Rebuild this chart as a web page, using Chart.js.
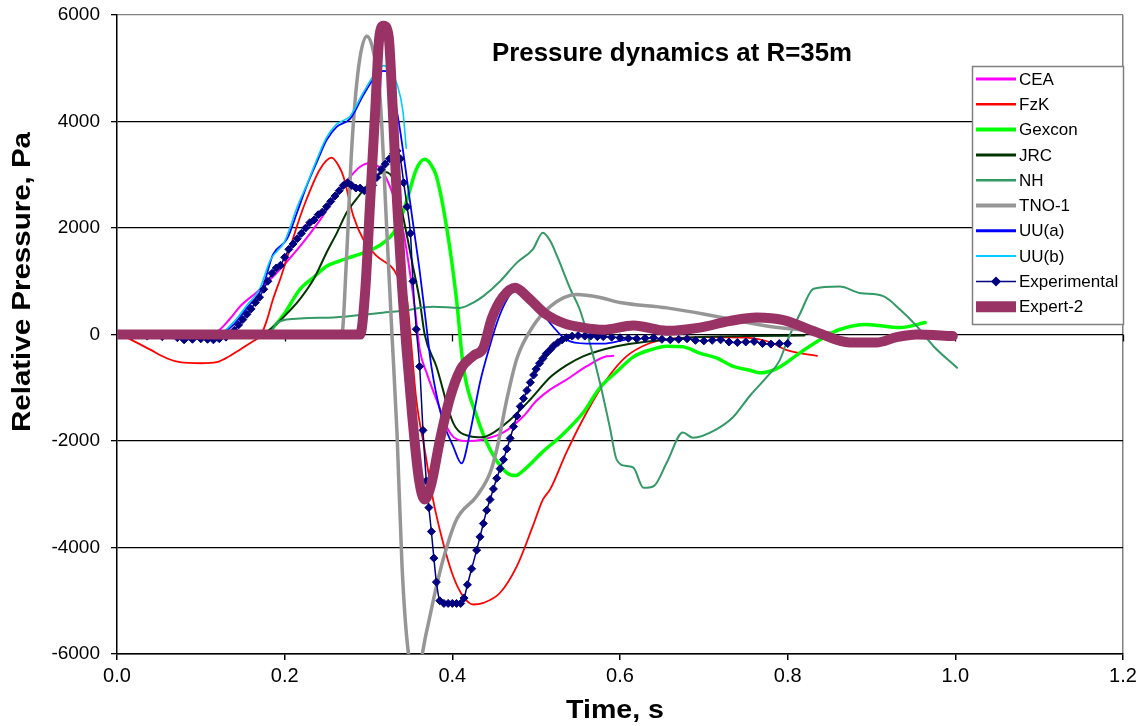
<!DOCTYPE html>
<html><head><meta charset="utf-8">
<script src="https://cdn.jsdelivr.net/npm/chart.js@4.4.1/dist/chart.umd.min.js"></script>
<style>html,body{margin:0;padding:0;background:#fff;}#wrap{width:1147px;height:726px;}</style>
</head><body><div id="wrap"><canvas id="c" width="1147" height="726"></canvas></div>
<script>
const TITLE = 'Pressure dynamics at R=35m';
const X_TITLE = 'Time, s';
const Y_TITLE = 'Relative Pressure, Pa';
const X_TICKS = [0, 0.2, 0.4, 0.6, 0.8, 1.0, 1.2];
const Y_TICKS = [-6000, -4000, -2000, 0, 2000, 4000, 6000];
const SERIES_NAMES = ['CEA','FzK','Gexcon','JRC','NH','TNO-1','UU(a)','UU(b)','Experimental','Expert-2'];

const CEA = [[0,0],[0.1,0],[0.119,50],[0.135,300],[0.147,530],[0.167,800],[0.19,1150],[0.218,1650],[0.24,2100],[0.258,2530],[0.275,2900],[0.29,3150],[0.302,3220],[0.315,3100],[0.325,2800],[0.335,2350],[0.342,1900],[0.35,1100],[0.356,400],[0.361,-280],[0.37,-750],[0.381,-1220],[0.397,-1840],[0.417,-2000],[0.437,-1970],[0.461,-1840],[0.485,-1530],[0.5,-1250],[0.517,-1030],[0.536,-850],[0.56,-600],[0.584,-410],[0.592,-400]];
const FZK = [[0,0],[0.01,-50],[0.039,-280],[0.06,-450],[0.075,-520],[0.1,-540],[0.119,-520],[0.135,-400],[0.147,-280],[0.16,-150],[0.167,-80],[0.172,0],[0.179,280],[0.186,657],[0.196,1100],[0.206,1600],[0.216,2100],[0.226,2535],[0.242,3100],[0.256,3320],[0.265,3150],[0.27,2970],[0.282,2220],[0.294,1780],[0.31,1470],[0.33,1220],[0.34,900],[0.346,657],[0.35,0],[0.357,-1220],[0.367,-2160],[0.377,-3100],[0.389,-3910],[0.401,-4540],[0.413,-4920],[0.425,-5070],[0.437,-5040],[0.457,-4850],[0.477,-4350],[0.496,-3600],[0.508,-3100],[0.517,-2900],[0.536,-2220],[0.56,-1470],[0.584,-845],[0.608,-407],[0.636,-160],[0.66,-80],[0.7,-50],[0.75,-60],[0.78,-150],[0.8,-300],[0.835,-400]];
const GEXCON = [[0,0],[0.175,0],[0.19,200],[0.2,400],[0.218,845],[0.235,1080],[0.25,1280],[0.265,1380],[0.282,1470],[0.305,1600],[0.32,1750],[0.33,1910],[0.34,2250],[0.346,2535],[0.357,3100],[0.367,3290],[0.374,3200],[0.381,2970],[0.393,2030],[0.405,657],[0.413,-595],[0.429,-1530],[0.445,-2160],[0.465,-2600],[0.475,-2650],[0.485,-2550],[0.508,-2200],[0.53,-1900],[0.556,-1470],[0.576,-1000],[0.596,-700],[0.616,-420],[0.636,-290],[0.656,-220],[0.675,-230],[0.695,-350],[0.715,-440],[0.735,-600],[0.755,-670],[0.767,-720],[0.787,-640],[0.815,-340],[0.839,-94],[0.862,94],[0.894,190],[0.934,130],[0.964,225]];
const JRC = [[0,0],[0.17,0],[0.183,100],[0.2,350],[0.218,660],[0.235,1050],[0.25,1540],[0.262,1900],[0.274,2290],[0.286,2550],[0.298,2790],[0.31,2980],[0.32,3050],[0.33,2900],[0.34,2300],[0.353,1280],[0.361,650],[0.367,0],[0.381,-600],[0.401,-1660],[0.421,-1910],[0.435,-1930],[0.445,-1880],[0.469,-1600],[0.493,-1220],[0.517,-800],[0.536,-580],[0.556,-410],[0.596,-220],[0.636,-125],[0.68,-60],[0.75,-30],[0.82,-20]];
const NH = [[0,0],[0.18,0],[0.19,200],[0.202,280],[0.258,320],[0.317,410],[0.338,440],[0.377,520],[0.409,500],[0.425,600],[0.437,720],[0.457,1000],[0.477,1350],[0.496,1600],[0.508,1910],[0.517,1750],[0.525,1470],[0.541,845],[0.552,470],[0.564,-160],[0.576,-900],[0.588,-1750],[0.596,-2350],[0.608,-2470],[0.616,-2500],[0.628,-2880],[0.64,-2850],[0.656,-2400],[0.675,-1840],[0.687,-1940],[0.715,-1780],[0.735,-1550],[0.755,-1150],[0.775,-800],[0.79,-500],[0.8,-100],[0.815,400],[0.831,860],[0.862,900],[0.886,780],[0.914,720],[0.934,470],[0.954,156],[0.974,-220],[1.002,-625]];
const TNO1 = [[0,0],[0.268,0],[0.274,1500],[0.28,3500],[0.288,5000],[0.298,5600],[0.306,5300],[0.314,4400],[0.322,1900],[0.328,0],[0.334,-1850],[0.34,-4350],[0.347,-5900],[0.357,-6400],[0.369,-5600],[0.38,-4800],[0.389,-4225],[0.405,-3475],[0.429,-3036],[0.445,-2600],[0.453,-2160],[0.465,-1220],[0.477,-450],[0.496,150],[0.517,530],[0.548,750],[0.575,700],[0.6,600],[0.656,500],[0.715,340],[0.775,160],[0.82,80],[0.85,30]];
const UUA = [[0,0],[0.12,0],[0.14,200],[0.155,500],[0.174,900],[0.186,1500],[0.203,1800],[0.215,2300],[0.226,2780],[0.24,3300],[0.25,3650],[0.262,3900],[0.278,4050],[0.294,4500],[0.306,4800],[0.318,4950],[0.326,4900],[0.33,4550],[0.338,3800],[0.346,2900],[0.353,2100],[0.361,1200],[0.368,300],[0.375,-600],[0.387,-1530],[0.401,-2100],[0.411,-2420],[0.421,-1850],[0.433,-900],[0.445,-200],[0.455,300],[0.465,650],[0.475,850],[0.49,750],[0.505,450],[0.52,150],[0.536,-100],[0.56,-170],[0.58,-170],[0.6,-120],[0.62,-50]];
const UUB = [[0,0],[0.12,0],[0.14,250],[0.155,550],[0.17,850],[0.183,1400],[0.2,1750],[0.215,2400],[0.226,2800],[0.24,3350],[0.25,3700],[0.262,3950],[0.278,4100],[0.294,4550],[0.31,4950],[0.318,5050],[0.326,4950],[0.334,4700],[0.341,4200],[0.345,3500]];
const EXPERIMENTAL = [[0,0],[0.018,-20],[0.036,-30],[0.054,-40],[0.072,-60],[0.08,-100],[0.09,-90],[0.1,-80],[0.108,-90],[0.115,-100],[0.122,-80],[0.13,-50],[0.135,0],[0.14,80],[0.145,180],[0.15,280],[0.155,380],[0.16,480],[0.165,600],[0.17,700],[0.175,850],[0.18,1000],[0.185,1150],[0.19,1250],[0.195,1300],[0.2,1450],[0.205,1600],[0.21,1700],[0.215,1800],[0.22,1900],[0.225,2000],[0.23,2100],[0.235,2150],[0.24,2250],[0.245,2300],[0.25,2400],[0.255,2500],[0.26,2600],[0.265,2700],[0.27,2800],[0.275,2850],[0.28,2800],[0.285,2750],[0.29,2750],[0.295,2700],[0.3,2700],[0.305,2800],[0.31,2950],[0.315,3100],[0.32,3200],[0.325,3300],[0.33,3400],[0.334,3450],[0.338,3300],[0.342,2850],[0.346,2400],[0.35,1900],[0.353,1000],[0.357,100],[0.361,-600],[0.365,-1800],[0.369,-2750],[0.372,-3250],[0.375,-3700],[0.378,-4200],[0.381,-4650],[0.385,-5000],[0.39,-5050],[0.395,-5050],[0.4,-5050],[0.405,-5050],[0.41,-5050],[0.414,-4950],[0.418,-4700],[0.423,-4400],[0.429,-4050],[0.433,-3800],[0.437,-3550],[0.441,-3300],[0.445,-3100],[0.449,-2900],[0.453,-2700],[0.457,-2520],[0.461,-2350],[0.465,-2150],[0.469,-1950],[0.473,-1730],[0.477,-1530],[0.481,-1350],[0.485,-1200],[0.489,-1050],[0.493,-900],[0.497,-760],[0.5,-650],[0.504,-540],[0.508,-450],[0.512,-360],[0.517,-280],[0.521,-210],[0.526,-150],[0.531,-100],[0.536,-60],[0.543,-30],[0.55,-20],[0.558,-30],[0.565,-30],[0.573,-40],[0.58,-40],[0.59,-50],[0.6,-60],[0.61,-70],[0.62,-80],[0.63,-70],[0.64,-60],[0.65,-90],[0.66,-100],[0.67,-90],[0.68,-80],[0.69,-110],[0.7,-120],[0.71,-110],[0.72,-100],[0.73,-140],[0.74,-150],[0.75,-140],[0.76,-130],[0.77,-170],[0.78,-180],[0.79,-170],[0.8,-170]];
const EXPERT2 = [[0,0],[0.29,0],[0.296,800],[0.302,2500],[0.308,4200],[0.313,5600],[0.318,5800],[0.324,5600],[0.329,4200],[0.334,2500],[0.34,900],[0.345,-200],[0.352,-1500],[0.36,-2700],[0.367,-3100],[0.375,-2800],[0.385,-2000],[0.397,-1200],[0.41,-650],[0.425,-400],[0.437,-250],[0.447,300],[0.46,700],[0.475,880],[0.49,700],[0.51,400],[0.535,200],[0.556,130],[0.58,90],[0.616,170],[0.656,70],[0.695,130],[0.73,250],[0.763,320],[0.795,270],[0.835,40],[0.874,-150],[0.906,-150],[0.93,-50],[0.954,0],[0.997,-30]];

const SERIES_DATA = [CEA, FZK, GEXCON, JRC, NH, TNO1, UUA, UUB, EXPERIMENTAL, EXPERT2];
const SERIES_COLORS = ['#FF00FF','#FF0000','#00FF00','#003300','#339966','#969696','#0000FF','#00CCFF','#000080','#993366'];
const LINE_W = [2, 1.8, 3.5, 2, 2, 3.5, 1.8, 1.6, 1.5, 10];
const LEGEND_W = [3, 2.5, 4, 3, 2.5, 4, 3, 2, 1.5, 11];

const datasets = SERIES_DATA.map((arr, i) => ({
  label: SERIES_NAMES[i],
  data: arr.map(([x, y]) => ({x, y})),
  borderColor: SERIES_COLORS[i],
  backgroundColor: SERIES_COLORS[i],
  borderWidth: LINE_W[i],
  pointRadius: SERIES_NAMES[i] === 'Experimental' ? 4 : 0,
  pointStyle: 'rectRot',
  pointBorderWidth: 1,
  pointHoverRadius: 0,
  cubicInterpolationMode: 'monotone',
  borderJoinStyle: 'round',
  borderCapStyle: 'round',
  fill: false,
  order: SERIES_DATA.length - i
}));

const FONT = '"Liberation Sans", Arial, sans-serif';

function drawText(ctx, text, cx, cy, font, targetW, rot) {
  ctx.save();
  ctx.font = font;
  const w = ctx.measureText(text).width;
  ctx.translate(cx, cy);
  if (rot) ctx.rotate(rot);
  if (targetW) ctx.scale(targetW / w, 1);
  ctx.textAlign = 'center';
  ctx.textBaseline = 'middle';
  ctx.fillStyle = '#000';
  ctx.fillText(text, 0, 0);
  ctx.restore();
}

const decor = {
  id: 'decor',
  beforeDatasetsDraw(chart) {
    const ctx = chart.ctx, xs = chart.scales.x, ys = chart.scales.y;
    const y0 = ys.getPixelForValue(0);
    ctx.save();
    ctx.strokeStyle = '#000';
    ctx.lineWidth = 1.3;
    X_TICKS.forEach(v => {
      if (v === 0) return;
      const px = Math.round(xs.getPixelForValue(v)) + 0.5;
      ctx.beginPath(); ctx.moveTo(px, y0); ctx.lineTo(px, y0 + 7); ctx.stroke();
    });
    ctx.restore();
  },
  afterDraw(chart) {
    const ctx = chart.ctx;
    drawText(ctx, TITLE, 672, 54, 'bold 25px ' + FONT, 360);
    drawText(ctx, X_TITLE, 615, 711, 'bold 26px ' + FONT, 98);
    drawText(ctx, Y_TITLE, 23, 282, 'bold 26px ' + FONT, 300, -Math.PI / 2);
    const lx = 972, ly = 66, lw = 151, lh = 258;
    ctx.save();
    ctx.fillStyle = '#fff';
    ctx.fillRect(lx, ly, lw, lh);
    ctx.strokeStyle = '#808080';
    ctx.lineWidth = 1.5;
    ctx.strokeRect(lx + 0.5, ly + 0.5, lw, lh);
    ctx.font = '17px ' + FONT;
    ctx.textBaseline = 'middle';
    ctx.textAlign = 'left';
    SERIES_NAMES.forEach((name, i) => {
      const ry = 79 + i * 25.3;
      ctx.strokeStyle = SERIES_COLORS[i];
      ctx.lineWidth = LEGEND_W[i];
      ctx.lineCap = 'butt';
      ctx.beginPath(); ctx.moveTo(976, ry); ctx.lineTo(1016, ry); ctx.stroke();
      if (name === 'Experimental') {
        ctx.fillStyle = SERIES_COLORS[i];
        ctx.beginPath();
        ctx.moveTo(996, ry - 5); ctx.lineTo(1001, ry); ctx.lineTo(996, ry + 5); ctx.lineTo(991, ry);
        ctx.closePath(); ctx.fill();
      }
      ctx.fillStyle = '#000';
      ctx.fillText(name, 1019, ry + 1);
    });
    ctx.restore();
  }
};

function zeroPad(s) { s.paddingTop = 0; s.paddingBottom = 0; s.paddingLeft = 0; s.paddingRight = 0; }

new Chart(document.getElementById('c'), {
  type: 'line',
  data: { datasets },
  options: {
    responsive: false,
    animation: false,
    devicePixelRatio: 1,
    layout: { padding: { left: 0, right: 24, top: 15, bottom: 0 } },
    plugins: { legend: { display: false }, tooltip: { enabled: false }, title: { display: false } },
    scales: {
      x: {
        type: 'linear', min: 0, max: 1.2,
        afterBuildTicks: s => { s.ticks = X_TICKS.map(v => ({ value: v })); },
        afterFit: s => { s.height = 72; zeroPad(s); },
        ticks: { callback: v => Number(v).toFixed(1), color: '#000', font: { family: FONT, size: 20 }, padding: 4, maxRotation: 0, autoSkip: false },
        grid: {
          color: c => (c.tick && c.tick.value === 1.2) ? '#808080' : 'rgba(0,0,0,0)',
          tickColor: '#000', tickLength: 6, lineWidth: 1.5, drawOnChartArea: true
        },
        border: { display: true, color: '#000', width: 1.5 }
      },
      y: {
        type: 'linear', min: -6000, max: 6000,
        afterBuildTicks: s => { s.ticks = Y_TICKS.map(v => ({ value: v })); },
        afterFit: s => { s.width = 117; zeroPad(s); },
        ticks: { callback: v => String(v), color: '#000', font: { family: FONT, size: 19 }, padding: 11, autoSkip: false },
        grid: {
          color: c => (c.tick && c.tick.value === 6000) ? '#808080' : '#000',
          tickColor: '#000', tickLength: 6, lineWidth: 1.3
        },
        border: { display: true, color: '#000', width: 1.5 }
      }
    }
  },
  plugins: [decor]
});
</script>
</body></html>
